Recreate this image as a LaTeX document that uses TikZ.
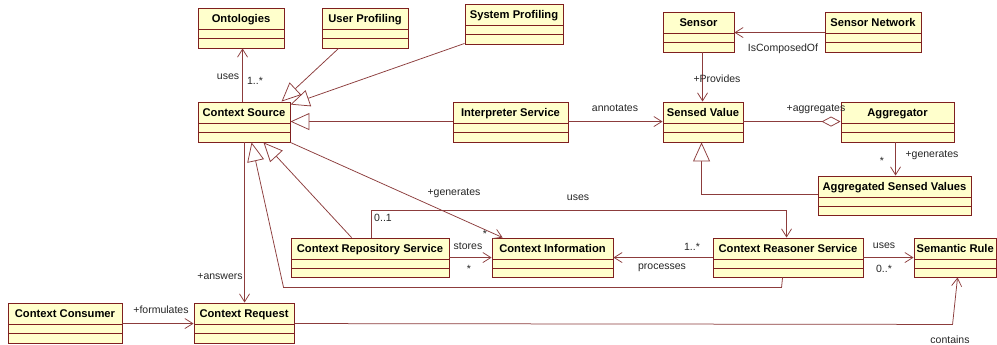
\documentclass[tikz,border=0pt]{standalone}
\usepackage{fontspec}
\setmainfont{Liberation Sans}
\usetikzlibrary{arrows.meta,fit,calc}
\definecolor{boxfill}{HTML}{FFFFCC}
\definecolor{boxline}{HTML}{7F1F1F}
\definecolor{conn}{HTML}{8C3C3C}
\tikzset{
  classbox/.style={draw=boxline, fill=boxfill, line width=0.9pt, inner sep=0pt, rectangle,
    path picture={\draw[boxline, line width=0.8pt]
      ([yshift=-21pt]path picture bounding box.north west) -- ([yshift=-21pt]path picture bounding box.north east)
      ([yshift=-30pt]path picture bounding box.north west) -- ([yshift=-30pt]path picture bounding box.north east);}},
  ctitle/.style={font=\fontsize{11.2}{13}\selectfont\bfseries, anchor=base, inner sep=0pt},
  lbl/.style={font=\fontsize{10.5}{12}\selectfont, inner sep=0pt, text=black!85},
  assoc/.style={draw=conn, line width=0.75pt, -{Straight Barb[length=8pt,width=10pt]}},
  gen/.style={draw=conn, line width=0.75pt, -{Triangle[open, length=19pt, width=17pt, fill=white]}},
  aggr/.style={draw=conn, line width=0.75pt, {Diamond[open,length=19pt,width=10pt,fill=white]}-},
}
\newcommand\umlclass[6]{%
  \node[classbox, fit={(#2,#3) (#4,#5)}] (#1) {};
  \node[ctitle] (#1-t) at ([yshift=-15pt]#1.north) {#6};
}
\begin{document}
\begin{tikzpicture}[x=1pt,y=-1pt]
\useasboundingbox[fill=white] (0,0) rectangle (997,345);
% classes
\umlclass{ont}{198}{8}{284}{48}{Ontologies}
\umlclass{up}{322}{8}{408}{48}{User Profiling}
\umlclass{sp}{465}{4}{563}{44}{System Profiling}
\umlclass{cs}{198}{102}{290}{142}{Context Source}
\umlclass{is}{453}{102}{568}{142}{Interpreter Service}
\umlclass{sen}{663}{12}{734}{52}{Sensor}
\umlclass{sn}{825}{12}{921}{52}{Sensor Network}
\umlclass{sv}{663}{102}{743}{142}{Sensed Value}
\umlclass{agg}{841}{102}{954}{142}{Aggregator}
\umlclass{asv}{818}{176}{971}{215}{Aggregated Sensed Values}
\umlclass{crs}{291}{238}{449}{277}{Context Repository Service}
\umlclass{ci}{492}{238}{613}{277}{Context Information}
\umlclass{cre}{713}{238}{863}{277}{Context Reasoner Service}
\umlclass{sr}{914}{238}{996.5}{277}{Semantic Rule}
\umlclass{cc}{8}{303}{122}{343}{Context Consumer}
\umlclass{cr}{194}{303}{294}{343}{Context Request}
% connectors
\draw[assoc] ([xshift=45pt]cs.north west) -- ([xshift=45pt]ont.south west);
\draw[gen] ([xshift=17pt]up.south west) -- ([xshift=84pt]cs.north west);
\draw[gen] ([yshift=1pt]sp.south west) -- ([yshift=-3pt]cs.north east);
\draw[gen] ([yshift=-20pt]is.north west) -- ([yshift=-20pt]cs.north east);
\draw[assoc] ([yshift=-20pt]is.north east) -- ([yshift=-20pt]sv.north west);
\draw[assoc] ([xshift=40pt]sen.south west) -- ([xshift=40pt]sv.north west);
\draw[assoc] ([yshift=-21pt]sn.north west) -- ([yshift=-21pt]sen.north east);
\draw[aggr] ([yshift=-20pt]agg.north west) -- ([yshift=-20pt]sv.north east);
\draw[assoc] ([xshift=55pt]agg.south west) -- ([xshift=78pt]asv.north west);
\draw[gen] ([yshift=-19pt]asv.north west) -| ([xshift=39pt]sv.south west);
\draw[assoc] ([xshift=47pt]cs.south west) -- ([xshift=51pt]cr.north west);
\draw[assoc] ([yshift=-21pt]cc.north east) -- ([yshift=-21pt]cr.north west);
\draw[gen] ([xshift=61pt]crs.north west) -- ([xshift=66pt]cs.south west);
\draw[gen] ([xshift=70pt]cre.south west) -- ([xshift=69pt,yshift=-10pt]cre.south west)
   -- ([xshift=-7pt,yshift=-10pt]crs.south west) -- ([xshift=54pt]cs.south west);
\draw[assoc] (cs.south east) -- ([xshift=11pt]ci.north west);
\draw[assoc] ([yshift=-20pt]crs.north east) -- ([yshift=-20pt]ci.north west);
\draw[assoc] ([yshift=-20pt]cre.north west) -- ([yshift=-20pt]ci.north east);
\draw[assoc] ([xshift=81pt]crs.north west) |- ([xshift=74pt,yshift=27pt]cre.north west)
   -- ([xshift=74pt]cre.north west);
\draw[assoc] ([yshift=-20pt]cre.north east) -- ([yshift=-20pt]sr.north west);
\draw[assoc] ([yshift=-21pt]cr.north east) -- ([xshift=39pt,yshift=-47pt]sr.south west)
   -- ([xshift=44pt]sr.south west);
% labels
\node[lbl] (l1) at (228,77) {uses};
\node[lbl] (l2) at (255,81) {1..*};
\node[lbl] (l3) at (615,108) {annotates};
\node[lbl] (l4) at (717,79) {+Provides};
\node[lbl] (l5) at (783,49) {IsComposedOf};
\node[lbl] (l6) at (816,109) {+aggregates};
\node[lbl] (l7) at (882,161) {*};
\node[lbl] (l8) at (932,155) {+generates};
\node[lbl] (l9) at (220,277) {+answers};
\node[lbl] (l10) at (161,310) {+formulates};
\node[lbl] (l11) at (454,193) {+generates};
\node[lbl] (l12) at (578,198) {uses};
\node[lbl] (l13) at (383,218) {0..1};
\node[lbl] (l14) at (468,246) {stores};
\node[lbl] (l15) at (485,234) {*};
\node[lbl] (l16) at (469,269) {*};
\node[lbl] (l17) at (692,247) {1..*};
\node[lbl] (l18) at (662,268) {processes};
\node[lbl] (l19) at (884,246) {uses};
\node[lbl] (l20) at (884,269) {0..*};
\node[lbl] (l21) at (950,340) {contains};
\end{tikzpicture}
\end{document}
